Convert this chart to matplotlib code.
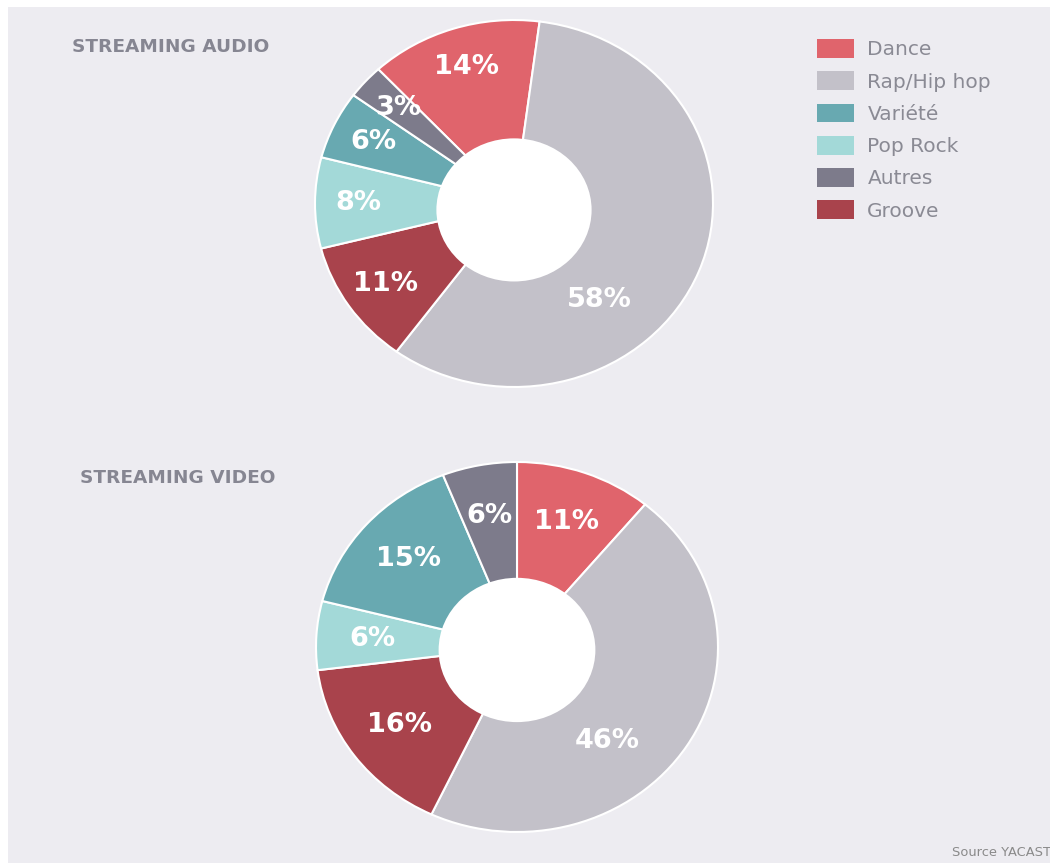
import numpy as np
import matplotlib
matplotlib.use('Agg')
from matplotlib import pyplot as plt
from matplotlib.patches import Patch, Ellipse, Rectangle

W, H = 1050, 863

genres = ['Dance', 'Rap/Hip hop', 'Variété', 'Pop Rock', 'Autres', 'Groove']
colors = ['#E0646C', '#C3C1C9', '#68A9B1', '#A3D9D8', '#7D7B8B', '#A9434C']
audio = [14, 58, 6, 8, 3, 11]
video = [11, 46, 15, 6, 6, 16]

# clockwise order of the slices in both donuts
pie_order = ['Dance', 'Rap/Hip hop', 'Groove', 'Pop Rock', 'Variété', 'Autres']

bg = '#EDECF1'
grey_txt = '#868692'

fig = plt.figure(figsize=(W / 100, H / 100), dpi=100, facecolor='white')
fig.patches.append(Rectangle((8 / W, 0), 1 - 8 / W, 1 - 7 / H, transform=fig.transFigure,
                             facecolor=bg, edgecolor='none', zorder=-10))


def px_axes(cx, cy, rx, ry):
    return fig.add_axes([(cx - rx) / W, (H - (cy + ry)) / H, 2 * rx / W, 2 * ry / H])


def donut(ax, values, start, hole_dy, big_shift, lab_r):
    idx = [genres.index(g) for g in pie_order]
    vals = [values[i] for i in idx]
    cols = [colors[i] for i in idx]
    wedges, _ = ax.pie(vals, colors=cols, startangle=start, counterclock=False, radius=1,
                       wedgeprops=dict(edgecolor='white', linewidth=1.5))
    big = int(np.argmax(vals))
    for k, w in enumerate(wedges):
        w.set_clip_on(False)
        mid = (w.theta1 + w.theta2) / 2
        r = lab_r
        if k == big:
            mid -= big_shift
            r = 0.68
        ax.text(r * np.cos(np.radians(mid)), r * np.sin(np.radians(mid)), '%d%%' % vals[k],
                ha='center', va='center', color='white', fontsize=19.5, fontweight='bold',
                zorder=5)
    ax.add_patch(Ellipse((0, hole_dy), 0.78, 0.78, facecolor='white', edgecolor='none', zorder=4))
    ax.set_xlim(-1, 1)
    ax.set_ylim(-1, 1)
    ax.set_aspect('auto')
    ax.axis('off')


ax1 = px_axes(514, 203.5, 199, 183.5)
donut(ax1, audio, 133, -0.035, 29, 0.78)

ax2 = px_axes(517, 647, 201, 185)
donut(ax2, video, 90, -0.016, 16, 0.72)

fig.text(72 / W, 1 - 47 / H, 'STREAMING AUDIO', ha='left', va='center', fontsize=13.3,
         fontweight='bold', color=grey_txt)
fig.text(80 / W, 1 - 478 / H, 'STREAMING VIDEO', ha='left', va='center', fontsize=13.3,
         fontweight='bold', color=grey_txt)

handles = [Patch(facecolor=c, edgecolor='none') for c in colors]
fig.legend(handles, genres, loc='upper left', bbox_to_anchor=(817 / W, 1 - 39 / H),
           frameon=False, borderpad=0, borderaxespad=0, fontsize=14.5, labelcolor='#8A8A94',
           handlelength=1.85, handleheight=1.05, handletextpad=0.65, labelspacing=0.6)

fig.text(952 / W, 1 - 852 / H, 'Source YACAST', ha='left', va='center', fontsize=9.4,
         color='#8A8A8A')

fig.savefig('out.png', dpi=100, facecolor=fig.get_facecolor())
